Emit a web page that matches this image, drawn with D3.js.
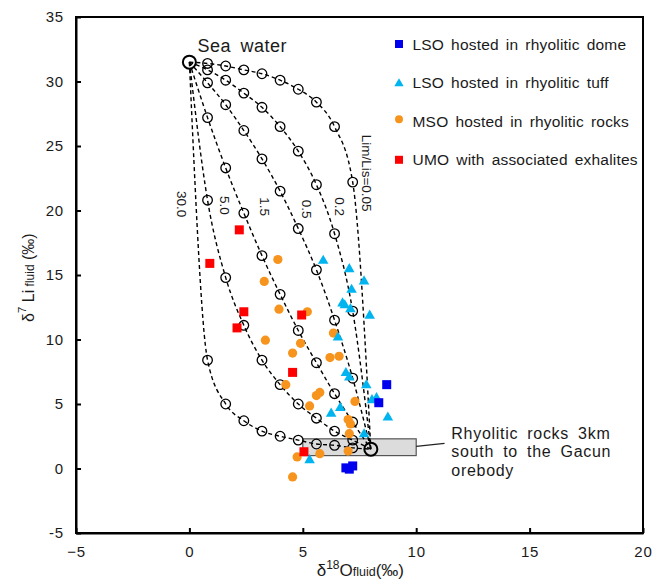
<!DOCTYPE html>
<html>
<head>
<meta charset="utf-8">
<script src="https://cdn.jsdelivr.net/npm/d3@7"></script>
<style>
  body { margin: 0; background: #fff; }
  svg text { font-family: "Liberation Sans", Arial, sans-serif; fill: #1a1a1a; }
</style>
</head>
<body>
<div id="chart"></div>
<script>
// axis ticks
const xTicks = [-5, 0, 5, 10, 15, 20];
const xTickLabels = ["\u22125", "0", "5", "10", "15", "20"];
const yTicks = [-5, 0, 5, 10, 15, 20, 25, 30, 35];
const yTickLabels = ["-5", "0", "5", "10", "15", "20", "25", "30", "35"];

// mixing curves: sea water -> rhyolitic rock, circles every 10 %
const seaWater = [0, 31.5];
const rockEnd = [8, 1.5];
const circleX = [0.8, 1.6, 2.4, 3.2, 4.0, 4.8, 5.6, 6.4, 7.2];
const curveNames = ["Lim/Lis=0.05", "0.2", "0.5", "1.5", "5.0", "30.0"];
const curveY005 = [31.4, 31.2, 30.9, 30.6, 30.1, 29.4, 28.4, 26.5, 22.2];
const curveY02 = [30.9, 30.1, 29.1, 28.0, 26.5, 24.6, 22.0, 18.2, 12.2];
const curveY05 = [29.9, 28.2, 26.2, 24.0, 21.5, 18.6, 15.4, 11.5, 7.0];
const curveY15 = [27.2, 23.3, 19.8, 16.5, 13.5, 10.7, 8.2, 5.8, 3.6];
const curveY5 = [20.8, 14.8, 11.1, 8.4, 6.5, 5.0, 3.9, 2.9, 2.2];
const curveY30 = [8.4, 5.0, 3.7, 2.9, 2.5, 2.2, 1.9, 1.8, 1.6];
// where each curve label sits (data units)
const curveLabelX = [7.84, 6.65, 5.19, 3.34, 1.57, -0.32];
const curveLabelY = [22.9, 20.3, 20.1, 20.3, 20.4, 20.5];

// samples [d18O, d7Li]
const lsoDome = [[8.7, 6.5], [8.35, 5.1], [6.9, 0.05], [7.2, 0.2], [7.05, -0.05]];
const lsoTuff = [[5.9, 16.1], [7.05, 15.45], [7.7, 14.5], [7.15, 13.85], [6.75, 12.8],
  [6.85, 12.65], [7.1, 12.35], [7.95, 11.85], [6.55, 10.15], [6.9, 7.4], [7.05, 7.05],
  [7.8, 6.45], [8.05, 5.3], [8.25, 5.45], [6.65, 4.7], [6.25, 4.25], [8.75, 3.95],
  [7.7, 2.65], [5.3, 0.65]];
const msoRocks = [[3.9, 16.2], [3.3, 14.5], [3.95, 12.35], [5.2, 12.15], [6.35, 10.5],
  [3.35, 9.95], [4.9, 9.7], [4.55, 8.95], [6.2, 8.6], [6.6, 8.7], [4.25, 6.5],
  [5.6, 5.65], [5.75, 5.9], [5.3, 4.85], [7.3, 5.2], [7.0, 3.8], [7.1, 3.45],
  [7.05, 2.7], [7.0, 1.35], [5.75, 1.15], [4.75, 0.9], [4.55, -0.65]];
const umoExhal = [[2.2, 18.5], [0.9, 15.9], [2.4, 12.15], [2.1, 10.9], [4.95, 11.9],
  [4.55, 7.45], [5.05, 1.3]];

const legendNames = ["LSO hosted in rhyolitic dome", "LSO hosted in rhyolitic tuff",
  "MSO hosted in rhyolitic rocks", "UMO with associated exhalites"];

// rhyolite field box and note
const rockBoxX = [5, 10];
const rockBoxY = [1.0, 2.3];
const rockNote = ["Rhyolitic rocks 3km", "south to the Gacun", "orebody"];

const width = 654 - 76 - 11;
const height = 581 - 17 - 48;
const margin = { top: 17, right: 11, bottom: 48, left: 76 };

const svg = d3.select("#chart")
  .append("svg")
  .attr("width", 654)
  .attr("height", 581)
  .append("g")
  .attr("transform", `translate(${margin.left},${margin.top})`);

const x = d3.scaleLinear().domain([-5, 20]).range([0, width]);
const y = d3.scaleLinear().domain([-5, 35]).range([height, 0]);

// frame
svg.append("rect")
  .attr("width", width).attr("height", height)
  .attr("fill", "none").attr("stroke", "#000").attr("stroke-width", 2);

svg.append("g")
  .attr("transform", `translate(0,${height})`)
  .call(d3.axisBottom(x).tickValues(xTicks)
    .tickFormat((d, i) => xTickLabels[i])
    .tickSizeInner(-5).tickSizeOuter(0).tickPadding(13))
  .call(g => g.select(".domain").attr("stroke-width", 2))
  .call(g => g.selectAll(".tick line").attr("stroke-width", 2))
  .call(g => g.selectAll(".tick text").attr("font-size", 15).attr("letter-spacing", 0.8));

svg.append("g")
  .call(d3.axisLeft(y).tickValues(yTicks)
    .tickFormat((d, i) => yTickLabels[i])
    .tickSizeInner(-5).tickSizeOuter(0).tickPadding(12))
  .call(g => g.select(".domain").attr("stroke-width", 2))
  .call(g => g.selectAll(".tick line").attr("stroke-width", 2))
  .call(g => g.selectAll(".tick text").attr("font-size", 15).attr("letter-spacing", 0.8));

// rock field
svg.append("rect")
  .attr("x", x(rockBoxX[0])).attr("y", y(rockBoxY[1]))
  .attr("width", x(rockBoxX[1]) - x(rockBoxX[0]))
  .attr("height", y(rockBoxY[0]) - y(rockBoxY[1]))
  .attr("fill", "#dcdcdc").attr("stroke", "#555").attr("stroke-width", 1.2);

svg.append("line")
  .attr("x1", x(10)).attr("y1", y(1.72))
  .attr("x2", x(11.25)).attr("y2", y(1.95))
  .attr("stroke", "#222").attr("stroke-width", 1.3);

svg.append("text")
  .attr("x", x(11.55)).attr("y", y(2.3))
  .attr("font-size", 16).attr("letter-spacing", 0.7).attr("word-spacing", 4)
  .selectAll("tspan").data(rockNote).join("tspan")
  .attr("x", x(11.55)).attr("dy", (d, i) => i ? 18.5 : 0)
  .text(d => d);

// mixing curves
const curveSets = [curveY005, curveY02, curveY05, curveY15, curveY5, curveY30];
const mixLine = d3.line()
  .x(d => x(d[0]))
  .y(d => y(d[1]))
  .curve(d3.curveMonotoneX);

curveSets.forEach((ys, k) => {
  const pts = [seaWater].concat(circleX.map((cx, i) => [cx, ys[i]])).concat([rockEnd]);
  svg.append("path")
    .attr("d", mixLine(pts))
    .attr("fill", "none").attr("stroke", "#000")
    .attr("stroke-width", 1.4).attr("stroke-dasharray", "4,3");
  svg.append("g").selectAll("circle")
    .data(circleX.map((cx, i) => [cx, ys[i]]))
    .join("circle")
    .attr("cx", d => x(d[0])).attr("cy", d => y(d[1]))
    .attr("r", 4.8).attr("fill", "none")
    .attr("stroke", "#000").attr("stroke-width", 1.3);
  const lx = x(curveLabelX[k]), ly = y(curveLabelY[k]);
  svg.append("text")
    .attr("transform", `translate(${lx},${ly}) rotate(90)`)
    .attr("text-anchor", "middle").attr("dy", "0.35em")
    .attr("font-size", 13.5)
    .text(curveNames[k]);
});

svg.selectAll(".endpt")
  .data([seaWater, rockEnd])
  .join("circle")
  .attr("cx", d => x(d[0])).attr("cy", d => y(d[1]))
  .attr("r", 6.5).attr("fill", "none")
  .attr("stroke", "#000").attr("stroke-width", 2);

svg.append("text")
  .attr("x", x(seaWater[0]) + 8).attr("y", y(seaWater[1]) - 10)
  .attr("font-size", 18).attr("letter-spacing", 0.5).attr("word-spacing", 4)
  .text("Sea water");

// samples
const tri = d3.symbol().type(d3.symbolTriangle).size(48);

svg.append("g").selectAll("circle").data(msoRocks).join("circle")
  .attr("cx", d => x(d[0])).attr("cy", d => y(d[1]))
  .attr("r", 4.6).attr("fill", "#f7941d");

svg.append("g").selectAll("path").data(lsoTuff).join("path")
  .attr("d", tri)
  .attr("transform", d => `translate(${x(d[0])},${y(d[1])})`)
  .attr("fill", "#00b4f0");

svg.append("g").selectAll("rect").data(lsoDome).join("rect")
  .attr("x", d => x(d[0]) - 4.5).attr("y", d => y(d[1]) - 4.5)
  .attr("width", 9).attr("height", 9)
  .attr("fill", "#0000ee");

svg.append("g").selectAll("rect").data(umoExhal).join("rect")
  .attr("x", d => x(d[0]) - 4.5).attr("y", d => y(d[1]) - 4.5)
  .attr("width", 9).attr("height", 9)
  .attr("fill", "#ff0000");

// legend
const legend = svg.append("g").attr("transform", "translate(323,27)");
const rowGap = 38.6;

legend.append("rect").attr("x", -4).attr("y", -4).attr("width", 8).attr("height", 8)
  .attr("fill", "#0000ee");
legend.append("path").attr("d", d3.symbol().type(d3.symbolTriangle).size(38)())
  .attr("transform", `translate(0,${rowGap + 1})`).attr("fill", "#00b4f0");
legend.append("circle").attr("cx", 0).attr("cy", rowGap * 2 - 2).attr("r", 4)
  .attr("fill", "#f7941d");
legend.append("rect").attr("x", -4).attr("y", rowGap * 3 - 4).attr("width", 8).attr("height", 8)
  .attr("fill", "#ff0000");

legend.selectAll("text.lg").data(legendNames).join("text")
  .attr("class", "lg")
  .attr("x", 13.5).attr("y", (d, i) => i * rowGap)
  .attr("dy", "0.36em")
  .attr("font-size", 15.5).attr("letter-spacing", 0.2).attr("word-spacing", 2.5)
  .text(d => d);

// axis titles
const xt = svg.append("text")
  .attr("x", 316.7 - margin.left).attr("y", 576 - margin.top)
  .attr("font-size", 17);
xt.append("tspan").text("\u03b4");
xt.append("tspan").attr("font-size", 12).attr("dy", -7).text("18");
xt.append("tspan").attr("dy", 7).text("O");
xt.append("tspan").attr("font-size", 12.5).text("fluid");
xt.append("tspan").text("(\u2030)");

const yt = svg.append("text")
  .attr("transform", `translate(${34 - margin.left},${322 - margin.top}) rotate(-90)`)
  .attr("text-anchor", "start")
  .attr("font-size", 16);
yt.append("tspan").text("\u03b4");
yt.append("tspan").attr("font-size", 11.5).attr("dy", -8).text("7");
yt.append("tspan").attr("dy", 8).text(" Li");
yt.append("tspan").attr("font-size", 12).text(" fluid");
yt.append("tspan").text(" (\u2030)");
</script>
</body>
</html>
